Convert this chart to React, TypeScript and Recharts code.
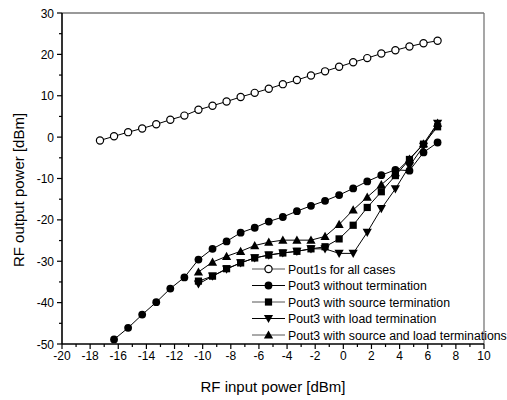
import React from 'react';
import { LineChart, Line, XAxis, YAxis, ReferenceLine } from 'recharts';

const FONT = "Arial, 'Liberation Sans', sans-serif";

// input power for each sweep
const pinAll = [-17.3, -16.3, -15.3, -14.3, -13.3, -12.3, -11.3, -10.3, -9.3, -8.3, -7.3, -6.3, -5.3, -4.3, -3.3, -2.3, -1.3, -0.3, 0.7, 1.7, 2.7, 3.7, 4.7, 5.7, 6.7];
const pinNoTerm = [-16.3, -15.3, -14.3, -13.3, -12.3, -11.3, -10.3, -9.3, -8.3, -7.3, -6.3, -5.3, -4.3, -3.3, -2.3, -1.3, -0.3, 0.7, 1.7, 2.7, 3.7, 4.7, 5.7, 6.7];
const pinTerm = [-10.3, -9.3, -8.3, -7.3, -6.3, -5.3, -4.3, -3.3, -2.3, -1.3, -0.3, 0.7, 1.7, 2.7, 3.7, 4.7, 5.7, 6.7];

// output power [dBm]
const pout1s = [-0.8, 0.2, 1.2, 2.1, 3.1, 4.2, 5.2, 6.6, 7.6, 8.6, 9.7, 10.7, 11.7, 12.8, 13.8, 14.9, 15.9, 17.0, 18.1, 19.1, 20.2, 21.0, 21.9, 22.7, 23.3];
const pout3NoTerm = [-48.9, -46.1, -42.9, -39.9, -36.6, -33.9, -29.6, -27.0, -25.2, -23.1, -21.9, -20.4, -19.3, -17.9, -16.6, -15.4, -14.0, -12.4, -10.7, -9.2, -7.9, -8.1, -3.7, -1.3];
const pout3Source = [-34.8, -33.6, -31.8, -30.4, -29.2, -28.5, -28.0, -27.6, -27.0, -26.5, -24.6, -21.3, -17.0, -13.2, -9.3, -5.4, -1.7, 2.5];
const pout3Load = [-35.5, -33.6, -31.9, -30.4, -29.2, -28.5, -28.0, -27.6, -27.0, -27.0, -28.1, -28.1, -23.0, -17.3, -12.5, -7.0, -2.2, 3.3];
const pout3SourceLoad = [-32.6, -30.2, -28.8, -27.6, -26.2, -25.4, -24.9, -24.9, -24.9, -24.0, -21.1, -17.6, -14.5, -11.5, -8.6, -5.3, -1.6, 3.4];

const xTicks = Array.from({ length: 31 }, (_, i) => -20 + i);
const yTicks = Array.from({ length: 17 }, (_, i) => -50 + i * 5);

const toPoints = (xs: number[], ys: number[]) => xs.map((x, i) => ({ x, y: ys[i] }));

type Shape = 'open' | 'circle' | 'square' | 'down' | 'up';

const Marker = ({ shape, cx, cy }: { shape: Shape; cx: number; cy: number }) => {
  if (cx == null || cy == null) return null;
  switch (shape) {
    case 'open':
      return <circle cx={cx} cy={cy} r={3.6} fill="#fff" stroke="#000" strokeWidth={1.2} />;
    case 'circle':
      return <circle cx={cx} cy={cy} r={3.9} fill="#000" />;
    case 'square':
      return <rect x={cx - 3.6} y={cy - 3.6} width={7.2} height={7.2} fill="#000" />;
    case 'down':
      return <polygon points={`${cx - 4.6},${cy - 3.6} ${cx + 4.6},${cy - 3.6} ${cx},${cy + 4.6}`} fill="#000" />;
    case 'up':
      return <polygon points={`${cx - 4.6},${cy + 3.6} ${cx + 4.6},${cy + 3.6} ${cx},${cy - 4.6}`} fill="#000" />;
  }
};

const dotFor = (shape: Shape) => (p: any) => <Marker key={`${shape}-${p.index}`} shape={shape} cx={p.cx} cy={p.cy} />;

const series = [
  { name: 'Pout1s for all cases', shape: 'open' as Shape, data: toPoints(pinAll, pout1s), legendStroke: '#555' },
  { name: 'Pout3 without termination', shape: 'circle' as Shape, data: toPoints(pinNoTerm, pout3NoTerm), legendStroke: '#000' },
  { name: 'Pout3 with source termination', shape: 'square' as Shape, data: toPoints(pinTerm, pout3Source), legendStroke: '#555' },
  { name: 'Pout3 with load termination', shape: 'down' as Shape, data: toPoints(pinTerm, pout3Load), legendStroke: '#000' },
  { name: 'Pout3 with source and load terminations', shape: 'up' as Shape, data: toPoints(pinTerm, pout3SourceLoad), legendStroke: '#555' },
];

const XTick = ({ x, y, payload }: any) => {
  const v = payload.value;
  const major = v % 2 === 0;
  return (
    <g>
      <line x1={x} x2={x} y1={y} y2={y + (major ? 5 : 3)} stroke="#000" strokeWidth={1.2} />
      {major && (
        <text x={x} y={y + 16} textAnchor="middle" fontSize={12} fontFamily={FONT} fill="#000">
          {v}
        </text>
      )}
    </g>
  );
};

const YTick = ({ x, y, payload }: any) => {
  const v = payload.value;
  const major = v % 10 === 0;
  return (
    <g>
      <line x1={x} x2={x - (major ? 5 : 3)} y1={y} y2={y} stroke="#000" strokeWidth={1.2} />
      {major && (
        <text x={x - 8} y={y + 4.5} textAnchor="end" fontSize={12} fontFamily={FONT} fill="#000">
          {v}
        </text>
      )}
    </g>
  );
};

const Legend = () => (
  <svg width={507} height={400} style={{ position: 'absolute', left: 0, top: 0, pointerEvents: 'none' }}>
    {series.map((s, i) => {
      const cy = 269 + i * 16.5;
      return (
        <g key={s.name}>
          <line x1={252} x2={285} y1={cy} y2={cy} stroke={s.legendStroke} strokeWidth={1} />
          <Marker shape={s.shape} cx={268.5} cy={cy} />
          <text x={288} y={cy + 4.5} fontSize={12.3} fontFamily={FONT} fill="#000">
            {s.name}
          </text>
        </g>
      );
    })}
  </svg>
);

export default function App() {
  return (
    <div style={{ position: 'absolute', left: 0, top: 0, width: 507, height: 400, background: '#fff' }}>
      <LineChart width={507} height={400} margin={{ top: 13, right: 23, bottom: 0, left: 0 }}>
        <XAxis
          type="number"
          dataKey="x"
          domain={[-20, 10]}
          ticks={xTicks}
          interval={0}
          height={56}
          tickSize={0}
          tickMargin={0}
          tickLine={false}
          tick={<XTick />}
          axisLine={{ stroke: '#000', strokeWidth: 1.6 }}
          allowDataOverflow
          label={{ value: 'RF input power [dBm]', position: 'insideBottom', offset: 8, fontSize: 15, fill: '#000', fontFamily: FONT }}
        />
        <YAxis
          type="number"
          dataKey="y"
          domain={[-50, 30]}
          ticks={yTicks}
          interval={0}
          width={62}
          tickSize={0}
          tickMargin={0}
          tickLine={false}
          tick={<YTick />}
          axisLine={{ stroke: '#000', strokeWidth: 1.6 }}
          allowDataOverflow
          label={{
            content: () => (
              <text
                x={18}
                y={190}
                transform="rotate(-90 18 190)"
                textAnchor="middle"
                dominantBaseline="central"
                fontSize={15}
                fontFamily={FONT}
                fill="#000"
              >
                RF output power [dBm]
              </text>
            ),
          }}
        />
        <ReferenceLine y={30} stroke="#777" strokeWidth={1.3} />
        <ReferenceLine x={10} stroke="#777" strokeWidth={1.3} />
        {series.map((s) => (
          <Line
            key={s.name}
            data={s.data}
            dataKey="y"
            name={s.name}
            stroke="#000"
            strokeWidth={1}
            dot={dotFor(s.shape)}
            activeDot={false}
            isAnimationActive={false}
          />
        ))}
      </LineChart>
      <Legend />
    </div>
  );
}
